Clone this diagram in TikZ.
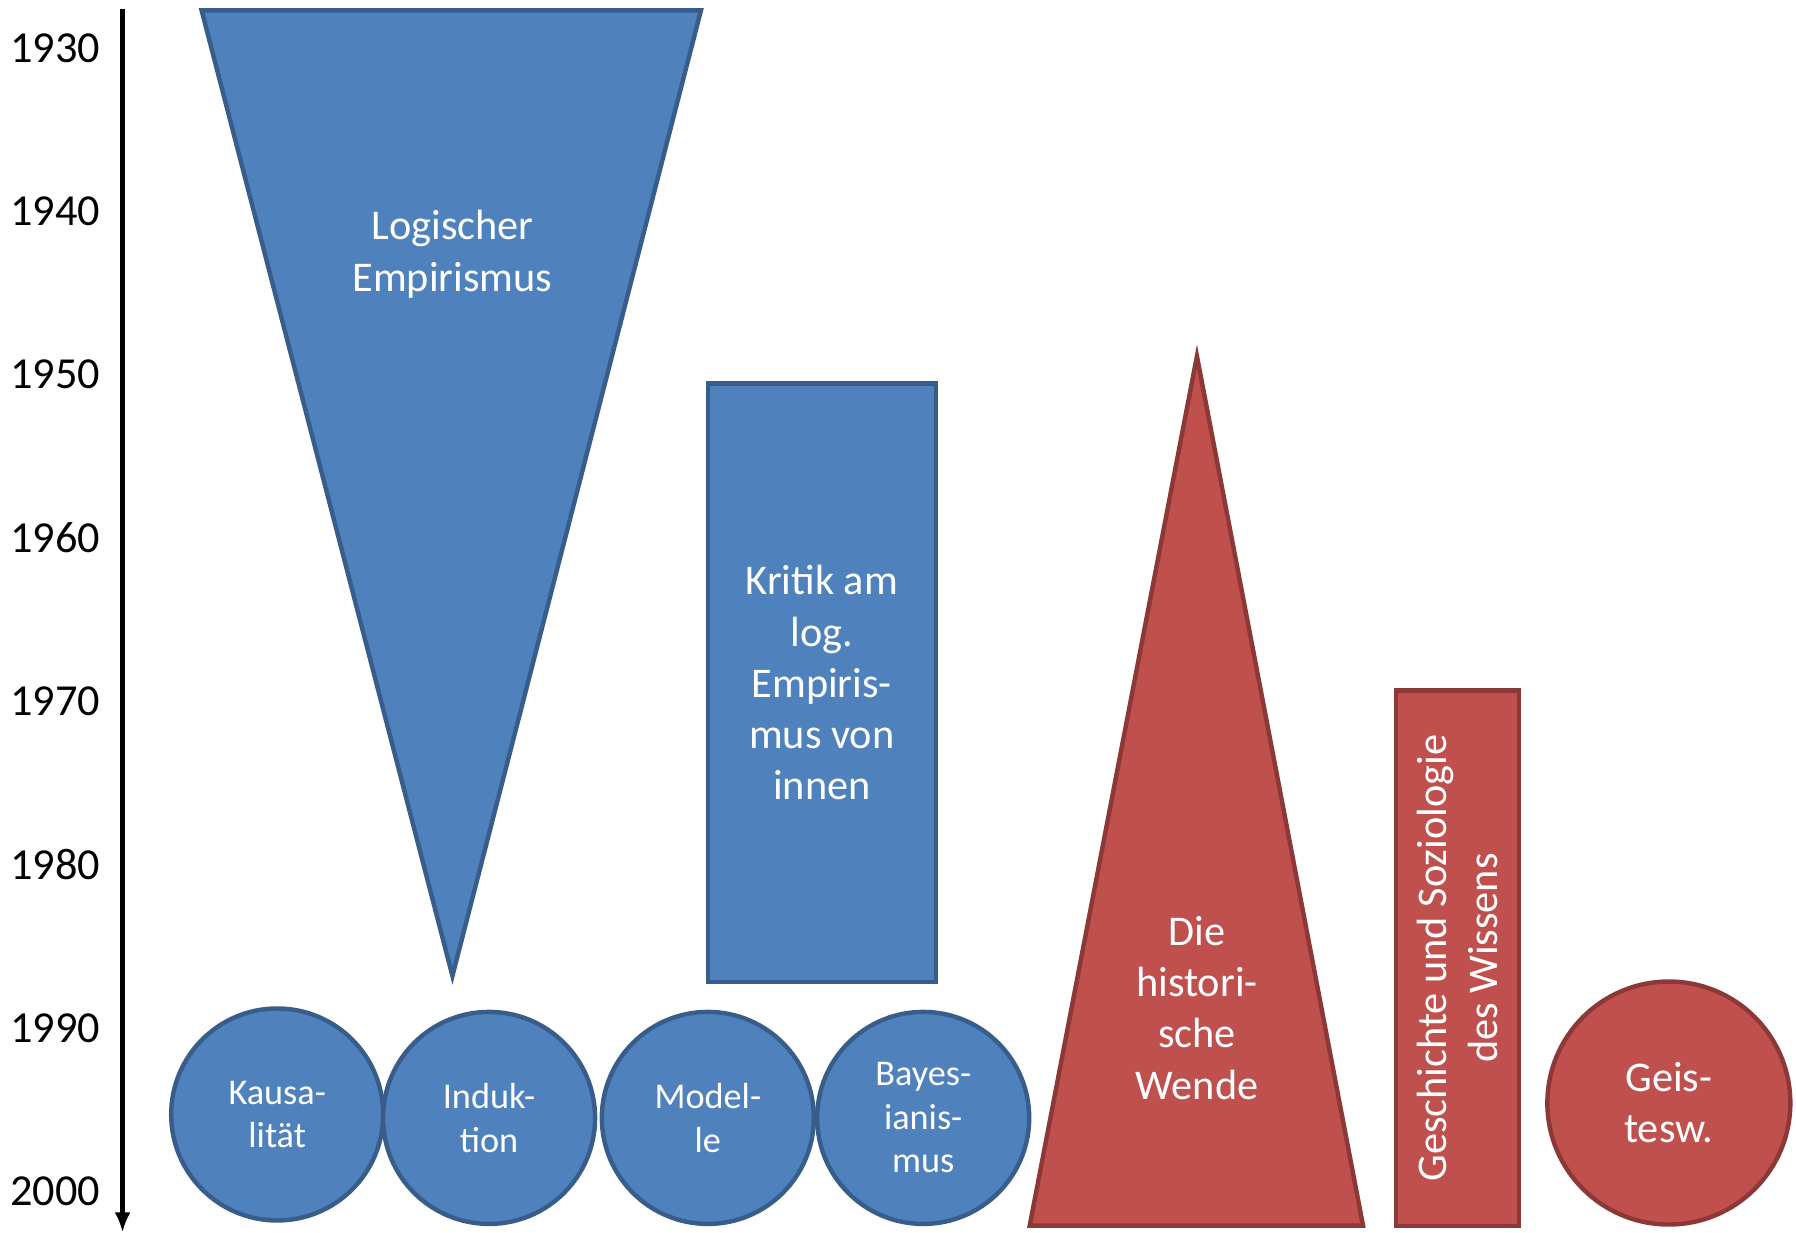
\documentclass[tikz,border=0pt]{standalone}
\usepackage{fontspec}
\setmainfont{Carlito}
\usetikzlibrary{arrows.meta}
\definecolor{blaufill}{HTML}{4F81BD}
\definecolor{blaurand}{HTML}{385D8A}
\definecolor{rotfill}{HTML}{C0504D}
\definecolor{rotrand}{HTML}{8C3836}

\begin{document}
\begin{tikzpicture}[
        x=0.01cm, y=-0.01cm,
        axis/.style={line width=1.2pt,-{Latex[length=5pt,width=4pt]}},
        jahr/.style={anchor=east,inner sep=0pt,font=\fontsize{11}{13}\selectfont},
        blau/.style={fill=blaufill,draw=blaurand,line width=1.1pt},
        rot/.style={fill=rotfill,draw=rotrand,line width=1.1pt},
        schrift/.style={text=white,align=center,font=\fontsize{10.5}{12.7}\selectfont},
        kreis/.style={blau,circle,minimum size=1.85cm,inner sep=0pt,text=white,align=center,font=\fontsize{9}{10.8}\selectfont}
    ]
    \useasboundingbox (0,0) rectangle (1568,1076);

    % Zeitachse
    \coordinate (oben) at (107,8);
    \coordinate (unten) at (107,1076);
    \draw[axis] (oben) -- (unten);
    \foreach \j [count=\i from 0] in {1930,1940,1950,1960,1970,1980,1990,2000}
        \node[jahr] (j\j) at (88,42+142.6*\i) {\j};

    % Logischer Empirismus
    \coordinate (le1) at (176,9);
    \coordinate (le2) at (612,9);
    \coordinate (le3) at (395,852);
    \draw[blau] (le1) -- (le2) -- (le3) -- cycle;
    \node[schrift] (logemp) at (395,222) {Logischer\\Empirismus};

    % Kritik von innen
    \node[blau,schrift,minimum width=1.99cm,minimum height=5.22cm,inner sep=0pt] (kritik) at (717.5,596)
        {Kritik am\\log.\\Empiris-\\mus von\\innen};

    % Themen
    \node[kreis] (kausal) at (242,973) {Kausa-\\lität};
    \node[kreis] (indukt) at (427,976) {Induk-\\tion};
    \node[kreis] (modell) at (618,976) {Model-\\le};
    \node[kreis] (bayes) at (806,976) {Bayes-\\ianis-\\mus};

    % Historische Wende
    \coordinate (hw1) at (1045,311);
    \coordinate (hw2) at (1190,1070);
    \coordinate (hw3) at (899,1070);
    \draw[rot] (hw1) -- (hw2) -- (hw3) -- cycle;
    \node[schrift] (wende) at (1045,880) {Die\\histori-\\sche\\Wende};

    % Wissenssoziologie
    \node[rot,schrift,rotate=90,minimum width=4.67cm,minimum height=1.07cm,inner sep=0pt] (wissen) at (1272.5,836.5)
        {Geschichte und Soziologie\\des Wissens};

    % Geisteswissenschaften
    \node[rot,circle,minimum size=2.12cm,inner sep=0pt,schrift] (geist) at (1457,963) {Geis-\\tesw.};
\end{tikzpicture}
\end{document}
